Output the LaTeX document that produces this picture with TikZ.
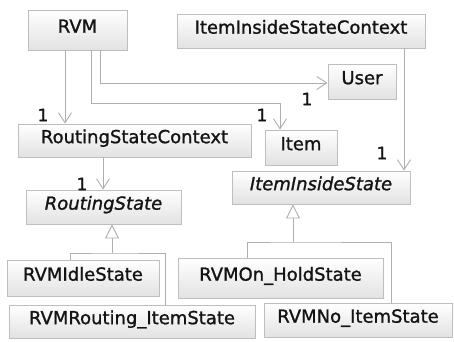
\documentclass[tikz,border=0pt]{standalone}
\usepackage{fontspec}
\newfontfamily\umlfont{DejaVu Sans}[BoldFont={DejaVu Sans}, BoldFeatures={FakeBold=1.2}, BoldItalicFont={DejaVu Sans Oblique}, BoldItalicFeatures={FakeBold=1.2}]
\usetikzlibrary{arrows.meta}
\definecolor{boxline}{RGB}{190,190,190}
\definecolor{boxfill}{RGB}{226,226,226}
\definecolor{conn}{RGB}{175,175,175}
\definecolor{txt}{RGB}{20,20,20}
\tikzset{
  cls/.style={draw=boxline, line width=0.9pt, top color=white, bottom color=boxfill,
    inner sep=0pt, font=\umlfont\fontsize{18}{20}\selectfont\bfseries, text=txt,
    text height=0.73em, text depth=0.2em},
  abs/.style={cls, font=\umlfont\fontsize{18}{20}\selectfont\bfseries\itshape},
  assoc/.style={draw=conn, line width=0.9pt, -{Straight Barb[length=10pt,width=13pt,line width=0.9pt]}},
  gen/.style={draw=conn, line width=0.9pt, -{Triangle[open,length=14pt,width=14pt,line width=0.9pt,fill=white]}},
  genline/.style={draw=conn, line width=0.9pt},
  mult/.style={font=\umlfont\fontsize{17}{18}\selectfont\bfseries, text=txt, inner sep=0pt}
}
\begin{document}
\begin{tikzpicture}[x=1pt,y=-1pt]
\useasboundingbox[fill=white] (0,0) rectangle (454,341);
\node[cls, minimum width=99pt, minimum height=40pt] (rvm) at (77.5,30) {RVM};
\node[cls, minimum width=248pt, minimum height=34pt] (iisc) at (301,31) {ItemInsideStateContext};
\node[cls, minimum width=68pt, minimum height=35pt] (user) at (362,81.5) {User};
\node[cls, minimum width=72pt, minimum height=35pt] (item) at (301,147.5) {Item};
\node[cls, minimum width=233pt, minimum height=33pt] (rsc) at (134.5,140.5) {RoutingStateContext};
\node[abs, minimum width=155pt, minimum height=34pt] (rs) at (103.5,207) {RoutingState};
\node[abs, minimum width=178pt, minimum height=33pt] (iis) at (321,187.5) {ItemInsideState};
\node[cls, minimum width=152pt, minimum height=36pt] (idle) at (83,278) {RVMIdleState};
\node[cls, minimum width=246pt, minimum height=33pt] (rout) at (132,321.5) {RVMRouting\_ItemState};
\node[cls, minimum width=205pt, minimum height=40pt] (hold) at (280.5,278) {RVMOn\_HoldState};
\node[cls, minimum width=188pt, minimum height=34pt] (noitem) at (358,320) {RVMNo\_ItemState};

% associations
\draw[assoc] (rvm.south -| 65,0) -- (rsc.north -| 65,0);
\node[mult] (m1) at (43,115) {1};
\draw[assoc] (rvm.south -| 100,0) |- (user.west |- 0,83);
\node[mult] (m2) at (307,99) {1};
\draw[assoc] (rvm.south -| 91,0) |- (280,103) -- (item.north -| 280,0);
\node[mult] (m3) at (262,115) {1};
\draw[assoc] (iisc.south -| 404,0) -- (iis.north -| 404,0);
\node[mult] (m4) at (382,153) {1};
\draw[assoc] (rsc.south -| 103,0) -- (rs.north -| 103,0);
\node[mult] (m5) at (82,184) {1};

% generalizations
\coordinate (j1) at (112,253);
\draw[gen] (j1) -- (rs.south -| j1);
\draw[genline] (idle.north -| 70,0) |- (j1) -| (rout.north -| 165,0);
\coordinate (j2) at (293,242);
\draw[gen] (j2) -- (iis.south -| j2);
\draw[genline] (hold.north -| 247,0) |- (j2) -| (noitem.north -| 391,0);
\end{tikzpicture}
\end{document}
